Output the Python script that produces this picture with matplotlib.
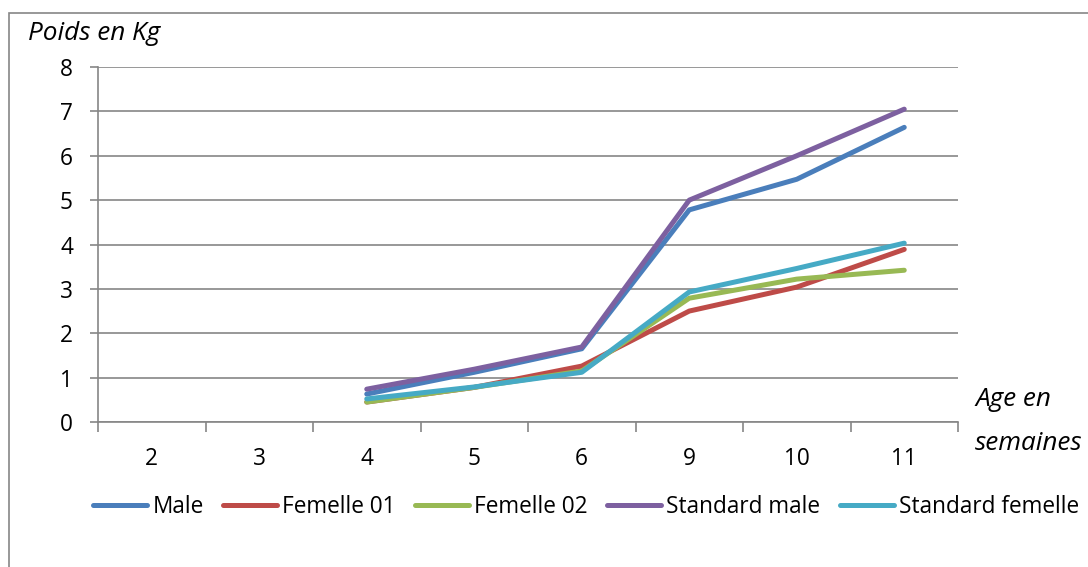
import matplotlib
matplotlib.use("Agg")
import matplotlib.pyplot as plt
from matplotlib.patches import Rectangle
from matplotlib.lines import Line2D
import numpy as np

# Ages (weeks) shown on the category axis
ages = ["2", "3", "4", "5", "6", "9", "10", "11"]

# Weights in kg; None where no weighing was recorded
male = [None, None, 0.63, 1.12, 1.65, 4.78, 5.47, 6.64]
femelle_01 = [None, None, 0.45, 0.78, 1.26, 2.50, 3.04, 3.89]
femelle_02 = [None, None, 0.45, 0.78, 1.15, 2.79, 3.22, 3.42]
standard_male = [None, None, 0.74, 1.19, 1.69, 5.00, 6.00, 7.05]
standard_femelle = [None, None, 0.52, 0.79, 1.12, 2.93, 3.46, 4.03]

series = [
    ("Male", male, "#4A7EBB"),
    ("Femelle 01", femelle_01, "#BE4B48"),
    ("Femelle 02", femelle_02, "#98B954"),
    ("Standard male", standard_male, "#7D60A0"),
    ("Standard femelle", standard_femelle, "#46AAC5"),
]

W, H = 1088, 567
plt.rcParams["font.family"] = ["Open Sans", "DejaVu Sans"]
fig = plt.figure(figsize=(W / 100, H / 100), dpi=100)

FS = 16.3
FS_TITLE = 18.8

# Chart area border
fig.patches.append(Rectangle((9 / W, -0.1), 1.2, 1 - 13 / H + 0.1,
                             transform=fig.transFigure, fill=False,
                             edgecolor="#868686", linewidth=1.2))

left, right, top, bottom = 98, 958, 67, 422
ax = fig.add_axes([left / W, 1 - bottom / H, (right - left) / W, (bottom - top) / H])

n = len(ages)
x = np.arange(n)
for name, vals, col in series:
    y = np.array([np.nan if v is None else v for v in vals], dtype=float)
    ax.plot(x, y, color=col, linewidth=3.6, solid_capstyle="round",
            solid_joinstyle="round", label=name, zorder=3)

ax.set_xlim(-0.5, n - 0.5)
ax.set_ylim(0, 8)
ax.set_yticks(range(0, 9))
ax.yaxis.grid(True, color="#868686", linewidth=1.2)
ax.set_axisbelow(True)

ax.set_xticks(np.arange(-0.5, n, 1.0), minor=False)
ax.set_xticklabels([])
ax.set_xticks(x, minor=True)
ax.set_xticklabels(ages, minor=True)
ax.tick_params(axis="x", which="major", length=7, color="#868686", width=1.2, direction="out")
ax.tick_params(axis="x", which="minor", length=0, pad=18, labelsize=FS)
ax.tick_params(axis="y", length=6, color="#868686", width=1.2, labelsize=FS, pad=12)

for s in ["top", "right"]:
    ax.spines[s].set_visible(False)
for s in ["left", "bottom"]:
    ax.spines[s].set_color("#868686")
    ax.spines[s].set_linewidth(1.2)

fig.text(28 / W, 1 - 33 / H, "Poids en Kg", style="italic", fontsize=FS_TITLE,
         ha="left", va="center")
fig.text(975 / W, 1 - 400 / H, "Age en", style="italic", fontsize=FS_TITLE,
         ha="left", va="center")
fig.text(975 / W, 1 - 443 / H, "semaines", style="italic", fontsize=FS_TITLE,
         ha="left", va="center")

handles = [Line2D([0], [0], color=c, linewidth=3.6, solid_capstyle="round")
           for _, _, c in series]
labels = [nm for nm, _, _ in series]
fig.legend(handles, labels, loc="center", bbox_to_anchor=(586 / W, 1 - 507 / H),
           ncol=5, frameon=False, fontsize=FS, handlelength=2.4,
           handletextpad=0.22, columnspacing=0.85, borderpad=0, borderaxespad=0)

fig.savefig("out.png", dpi=100)
